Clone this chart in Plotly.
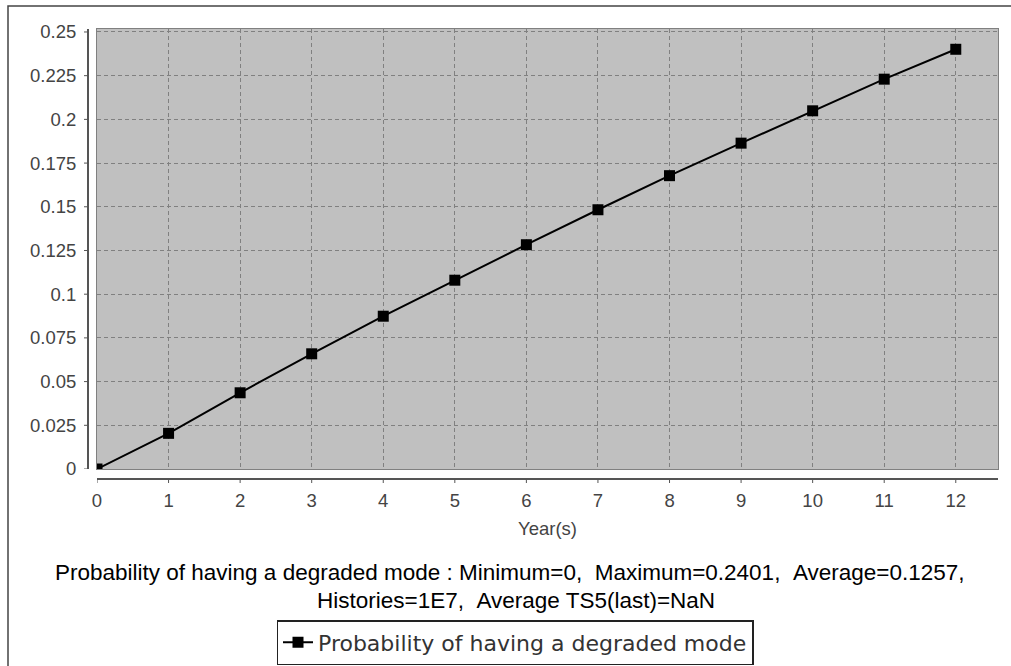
import plotly.graph_objects as go

# ---- data ----
years = [0, 1, 2, 3, 4, 5, 6, 7, 8, 9, 10, 11, 12]
prob_degraded = [0, 0.0204, 0.0436, 0.0659, 0.0874, 0.1080, 0.1283,
                 0.1483, 0.1678, 0.1864, 0.2049, 0.2230, 0.2401]
y_tick_vals = [0, 0.025, 0.05, 0.075, 0.1, 0.125, 0.15, 0.175, 0.2, 0.225, 0.25]
y_tick_text = ["0", "0.025", "0.05", "0.075", "0.1", "0.125", "0.15",
               "0.175", "0.2", "0.225", "0.25"]
x_tick_vals = list(range(0, 13))
series_name = "Probability of having a degraded mode"
stats_line1 = ("Probability of having a degraded mode : Minimum=0,\u00a0\u00a0Maximum=0.2401,"
               "\u00a0\u00a0Average=0.1257,")
stats_line2 = "Histories=1E7,\u00a0\u00a0Average TS5(last)=NaN"

# ---- layout geometry (pixels) ----
W, H = 1011, 666
L, R, T, B = 97, 998, 29, 469
pw, ph = R - L, B - T


def px_x(px):
    return (px - L) / pw


def px_y(py):
    return (B - py) / ph


fig = go.Figure()
fig.add_trace(go.Scatter(
    x=years, y=prob_degraded, mode="lines+markers", name=series_name,
    line=dict(color="black", width=2),
    marker=dict(symbol="square", size=11, color="black"),
    showlegend=True,
))

shapes = []
axis_col = "#555555"
# outer frame
shapes.append(dict(type="rect", xref="paper", yref="paper",
                   x0=px_x(8), x1=px_x(1030), y0=px_y(690), y1=px_y(6),
                   line=dict(color="#444444", width=1.5), layer="below"))
# offset y axis line + ticks
shapes.append(dict(type="line", xref="paper", yref="paper",
                   x0=px_x(88), x1=px_x(88), y0=0, y1=1,
                   line=dict(color=axis_col, width=2)))
for v in y_tick_vals:
    shapes.append(dict(type="line", xref="paper", yref="y",
                       x0=px_x(84), x1=px_x(88), y0=v, y1=v,
                       line=dict(color=axis_col, width=1)))
# offset x axis line + ticks
shapes.append(dict(type="line", xref="paper", yref="paper",
                   x0=0, x1=1, y0=px_y(479), y1=px_y(479),
                   line=dict(color=axis_col, width=2)))
for v in x_tick_vals:
    shapes.append(dict(type="line", xref="x", yref="paper",
                       x0=v, x1=v, y0=px_y(479), y1=px_y(483),
                       line=dict(color=axis_col, width=1)))

annotations = [
    dict(text="Year(s)", xref="paper", yref="paper", x=px_x(547), y=px_y(528),
         xanchor="center", yanchor="middle", showarrow=False,
         font=dict(family="Liberation Sans, Arial", size=18.5, color="#444444")),
    dict(text=stats_line1, xref="paper", yref="paper", x=px_x(510), y=px_y(572),
         xanchor="center", yanchor="middle", showarrow=False,
         font=dict(family="Liberation Sans, Arial", size=22.5, color="black")),
    dict(text=stats_line2, xref="paper", yref="paper", x=px_x(516), y=px_y(600),
         xanchor="center", yanchor="middle", showarrow=False,
         font=dict(family="Liberation Sans, Arial", size=22.5, color="black")),
]

fig.update_layout(
    width=W, height=H,
    margin=dict(l=L, r=W - R, t=T, b=H - B),
    paper_bgcolor="white",
    plot_bgcolor="#c0c0c0",
    shapes=shapes,
    annotations=annotations,
    legend=dict(
        orientation="h", xref="paper", yref="container",
        x=px_x(515), y=1 - 620 / H, xanchor="center", yanchor="top",
        bgcolor="white", bordercolor="#222222", borderwidth=1.5,
        font=dict(family="DejaVu Sans", size=22, color="#333333"),
    ),
    xaxis=dict(
        range=[0, 12.59], tickvals=x_tick_vals, ticks="outside", ticklen=15,
        tickcolor="rgba(0,0,0,0)", showgrid=True, gridcolor="#808080",
        griddash="4px,3px", gridwidth=1, zeroline=False, showline=True,
        linecolor="#808080", linewidth=1, mirror=True,
        tickfont=dict(family="Liberation Sans, Arial", size=18.5, color="#444444"),
    ),
    yaxis=dict(
        range=[0, 0.2517], tickvals=y_tick_vals, ticktext=y_tick_text,
        ticks="outside", ticklen=16, tickcolor="rgba(0,0,0,0)",
        showgrid=True, gridcolor="#808080", griddash="4px,3px", gridwidth=1,
        zeroline=False, showline=True, linecolor="#808080", linewidth=1, mirror=True,
        tickfont=dict(family="Liberation Sans, Arial", size=18.5, color="#444444"),
    ),
)

fig.write_html("out.html", config={"displayModeBar": False},
               post_script="document.body.style.margin='0px';")
